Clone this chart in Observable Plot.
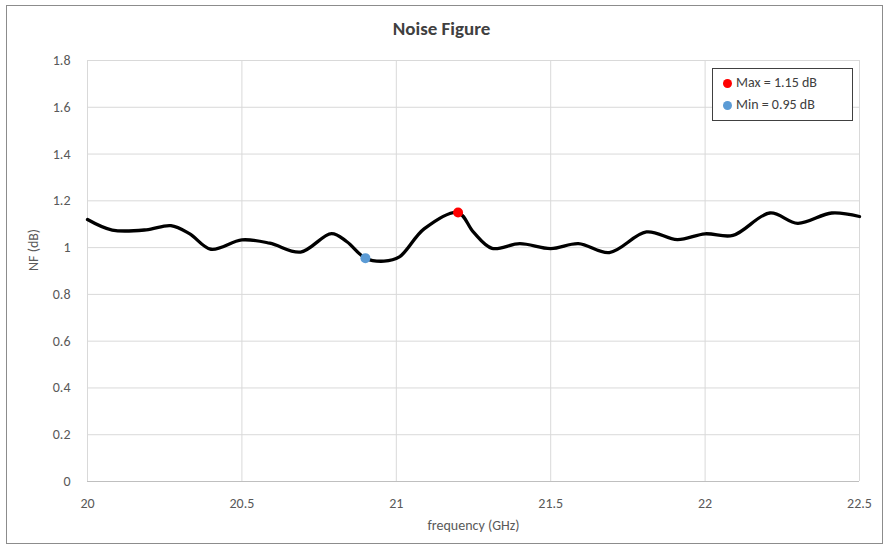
<!DOCTYPE html>
<html>
<head>
<meta charset="utf-8">
<script src="https://cdn.jsdelivr.net/npm/d3@7"></script>
<script src="https://cdn.jsdelivr.net/npm/@observablehq/plot@0.6"></script>
<style>
  html, body { margin: 0; padding: 0; background: #fff; }
  body { width: 891px; height: 551px; position: relative; overflow: hidden; font-family: "Carlito", "Lato", "Open Sans", sans-serif; }
  #frame { position: absolute; left: 6px; top: 5px; width: 877px; height: 539px; border: 1px solid #8c8c8c; box-sizing: border-box; }
  #chart { position: absolute; left: 0; top: 0; }
  #legend { position: absolute; left: 712px; top: 68px; width: 141px; height: 53px; border: 1px solid #404040; box-sizing: border-box; background: #fff; padding: 3px 0 0 10px; font-size: 14px; color: #404040; }
  #legend .row { height: 22px; line-height: 22px; display: flex; align-items: center; }
  #legend .sw { width: 9px; height: 9px; border-radius: 50%; margin-right: 4px; }
</style>
</head>
<body>
<div id="frame"></div>
<div id="chart"></div>
<div id="legend"></div>
<script>
const chartTitle = "Noise Figure";
const xLabel = "frequency (GHz)";
const yLabel = "NF (dB)";
const xTicks = [20, 20.5, 21, 21.5, 22, 22.5];
const yTicks = [0, 0.2, 0.4, 0.6, 0.8, 1, 1.2, 1.4, 1.6, 1.8];

const freqGHz = [20.00, 20.08, 20.19, 20.27, 20.33, 20.40, 20.50, 20.59, 20.69, 20.79, 20.84, 20.90, 20.96, 21.01, 21.09, 21.20, 21.25, 21.31, 21.40, 21.50, 21.59, 21.69, 21.81, 21.91, 22.00, 22.09, 22.21, 22.30, 22.41, 22.50];
const nfDb    = [1.120, 1.075, 1.076, 1.094, 1.060, 0.993, 1.033, 1.019, 0.981, 1.060, 1.025, 0.955, 0.942, 0.960, 1.080, 1.150, 1.066, 0.997, 1.017, 0.996, 1.017, 0.979, 1.067, 1.034, 1.059, 1.052, 1.148, 1.104, 1.148, 1.133];

const markerNames = ["Max = 1.15 dB", "Min = 0.95 dB"];
const markerFreq = [21.2, 20.9];
const markerNf = [1.15, 0.955];
const markerColors = ["#ff0000", "#5b9bd5"];

const curve = freqGHz.map((f, i) => ({f, nf: nfDb[i]}));
const markers = markerNames.map((name, i) => ({name, f: markerFreq[i], nf: markerNf[i], color: markerColors[i]}));

const font = "Carlito, Lato, 'Open Sans', sans-serif";

const plot = Plot.plot({
  width: 891,
  height: 551,
  marginLeft: 87,
  marginRight: 32,
  marginTop: 60,
  marginBottom: 70,
  style: {fontFamily: font, background: "transparent", overflow: "visible"},
  x: {domain: [20, 22.5]},
  y: {domain: [0, 1.8]},
  marks: [
    Plot.gridX(xTicks, {stroke: "#d9d9d9", strokeOpacity: 1}),
    Plot.gridY(yTicks, {stroke: "#d9d9d9", strokeOpacity: 1}),
    Plot.ruleY([0], {stroke: "#bfbfbf", strokeWidth: 1}),
    Plot.axisX(xTicks, {tickSize: 0, tickPadding: 17, fontSize: 14, fill: "#595959", label: null, tickFormat: d => String(d)}),
    Plot.axisY(yTicks, {tickSize: 0, tickPadding: 17, fontSize: 14, fill: "#595959", label: null, tickFormat: d => String(d)}),
    Plot.line(curve, {x: "f", y: "nf", curve: "catmull-rom", stroke: "#000", strokeWidth: 3.3}),
    Plot.dot(markers, {x: "f", y: "nf", r: 5, fill: "color", stroke: null}),
    Plot.text([chartTitle], {frameAnchor: "top", lineAnchor: "middle", dx: -32, dy: -32, fontSize: 19, fontWeight: "bold", fill: "#404040"}),
    Plot.text([xLabel], {frameAnchor: "bottom", lineAnchor: "middle", dy: 44, fontSize: 14, fill: "#595959"}),
    Plot.text([yLabel], {frameAnchor: "left", lineAnchor: "middle", dx: -54, rotate: -90, fontSize: 14, fill: "#595959"})
  ]
});
document.getElementById("chart").appendChild(plot);

const legend = document.getElementById("legend");
markers.forEach(m => {
  const row = document.createElement("div");
  row.className = "row";
  const sw = document.createElement("span");
  sw.className = "sw";
  sw.style.background = m.color;
  const t = document.createElement("span");
  t.textContent = m.name;
  row.appendChild(sw);
  row.appendChild(t);
  legend.appendChild(row);
});
</script>
</body>
</html>
